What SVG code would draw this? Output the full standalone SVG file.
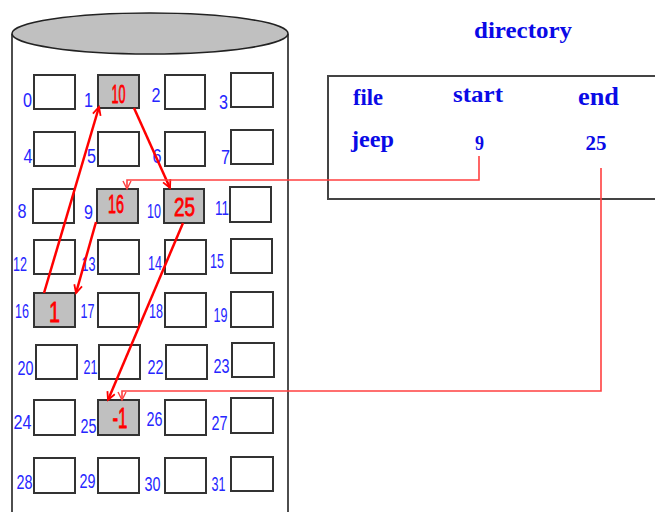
<svg xmlns="http://www.w3.org/2000/svg" width="655" height="512" viewBox="0 0 655 512">
<style>
.blk{fill:#fff;stroke:#333;stroke-width:2}
.used{fill:#c0c0c0;stroke:#333;stroke-width:2}
.lbl{font-family:"Liberation Sans",Arial,sans-serif;font-size:20px;fill:#2626ff}
.val{font-family:"Liberation Sans",Arial,sans-serif;fill:#ff0000;stroke:#ff0000;stroke-width:0.8;text-anchor:middle}
.dir{font-family:"Liberation Serif","Times New Roman",serif;font-weight:bold;fill:#0a0ae6}
.arr{fill:none;stroke:#ff0000;stroke-width:2.5;marker-end:url(#ah)}
.lnk{fill:none;stroke:#ff4040;stroke-width:1.6;marker-end:url(#ah2)}
</style>
<defs>
<marker id="ah" markerUnits="userSpaceOnUse" markerWidth="12" markerHeight="12" refX="9" refY="5" orient="auto">
<path d="M1,1 L9,5 L1,9" fill="none" stroke="#ff0000" stroke-width="1.8"/>
</marker>
<marker id="ah2" markerUnits="userSpaceOnUse" markerWidth="12" markerHeight="12" refX="9" refY="5" orient="auto">
<path d="M1,1 L9,5 L1,9" fill="none" stroke="#ff4040" stroke-width="1.4"/>
</marker>
</defs>
<rect width="655" height="512" fill="#fff"/>
<g id="disk">
<path d="M12,34 L12,512 M288,34 L288,512" stroke="#222" stroke-width="1.6" fill="none"/>
<ellipse cx="150" cy="33.5" rx="138" ry="20.5" fill="#c0c0c0" stroke="#222" stroke-width="1.6"/>
</g>
<g id="blocks">
<g id="b0"><rect class="blk" x="34" y="75" width="41" height="34"/><text class="lbl" x="23" y="107" textLength="9" lengthAdjust="spacingAndGlyphs">0</text></g>
<g id="b1"><rect class="used" x="98" y="75" width="41" height="33"/><text class="lbl" x="84" y="107" textLength="9" lengthAdjust="spacingAndGlyphs">1</text><text class="val" x="118.5" y="103" font-size="25" textLength="14" lengthAdjust="spacingAndGlyphs">10</text></g>
<g id="b2"><rect class="blk" x="165" y="75" width="40" height="34"/><text class="lbl" x="151.5" y="102" textLength="9" lengthAdjust="spacingAndGlyphs">2</text></g>
<g id="b3"><rect class="blk" x="231" y="73" width="42" height="34"/><text class="lbl" x="219" y="109" textLength="9" lengthAdjust="spacingAndGlyphs">3</text></g>
<g id="b4"><rect class="blk" x="34" y="132" width="41" height="34"/><text class="lbl" x="23.5" y="163" textLength="9" lengthAdjust="spacingAndGlyphs">4</text></g>
<g id="b5"><rect class="blk" x="98" y="132" width="41" height="34"/><text class="lbl" x="87" y="163" textLength="9" lengthAdjust="spacingAndGlyphs">5</text></g>
<g id="b6"><rect class="blk" x="165" y="132" width="40" height="34"/><text class="lbl" x="152.5" y="163" textLength="9" lengthAdjust="spacingAndGlyphs">6</text></g>
<g id="b7"><rect class="blk" x="231" y="130" width="42" height="34"/><text class="lbl" x="221" y="164" textLength="9" lengthAdjust="spacingAndGlyphs">7</text></g>
<g id="b8"><rect class="blk" x="33" y="189" width="41" height="34"/><text class="lbl" x="17.5" y="218" textLength="9" lengthAdjust="spacingAndGlyphs">8</text></g>
<g id="b9"><rect class="used" x="97" y="189" width="41" height="34"/><text class="lbl" x="84" y="219" textLength="9" lengthAdjust="spacingAndGlyphs">9</text><text class="val" x="116" y="213" font-size="26" textLength="16" lengthAdjust="spacingAndGlyphs">16</text></g>
<g id="b10"><rect class="used" x="164" y="189" width="40" height="34"/><text class="lbl" x="147" y="218" textLength="14" lengthAdjust="spacingAndGlyphs">10</text><text class="val" x="184.5" y="216" font-size="26" textLength="21" lengthAdjust="spacingAndGlyphs">25</text></g>
<g id="b11"><rect class="blk" x="230" y="187" width="41" height="35"/><text class="lbl" x="215" y="215" textLength="14" lengthAdjust="spacingAndGlyphs">11</text></g>
<g id="b12"><rect class="blk" x="34" y="240" width="41" height="34"/><text class="lbl" x="13" y="271" textLength="14" lengthAdjust="spacingAndGlyphs">12</text></g>
<g id="b13"><rect class="blk" x="98" y="240" width="41" height="34"/><text class="lbl" x="81.5" y="271" textLength="14" lengthAdjust="spacingAndGlyphs">13</text></g>
<g id="b14"><rect class="blk" x="165" y="240" width="41" height="34"/><text class="lbl" x="148" y="270" textLength="14" lengthAdjust="spacingAndGlyphs">14</text></g>
<g id="b15"><rect class="blk" x="231" y="239" width="41" height="34"/><text class="lbl" x="210" y="268" textLength="14" lengthAdjust="spacingAndGlyphs">15</text></g>
<g id="b16"><rect class="used" x="34" y="293" width="41" height="34"/><text class="lbl" x="15" y="318" textLength="14" lengthAdjust="spacingAndGlyphs">16</text><text class="val" x="54.5" y="322" font-size="30" textLength="11" lengthAdjust="spacingAndGlyphs">1</text></g>
<g id="b17"><rect class="blk" x="98" y="293" width="41" height="34"/><text class="lbl" x="80.5" y="318" textLength="14" lengthAdjust="spacingAndGlyphs">17</text></g>
<g id="b18"><rect class="blk" x="165" y="293" width="41" height="34"/><text class="lbl" x="149" y="318" textLength="14" lengthAdjust="spacingAndGlyphs">18</text></g>
<g id="b19"><rect class="blk" x="231" y="292" width="42" height="35"/><text class="lbl" x="213.5" y="322" textLength="14" lengthAdjust="spacingAndGlyphs">19</text></g>
<g id="b20"><rect class="blk" x="36" y="345" width="41" height="34"/><text class="lbl" x="17.5" y="375" textLength="16" lengthAdjust="spacingAndGlyphs">20</text></g>
<g id="b21"><rect class="blk" x="99" y="345" width="41" height="34"/><text class="lbl" x="83.5" y="374" textLength="14" lengthAdjust="spacingAndGlyphs">21</text></g>
<g id="b22"><rect class="blk" x="166" y="345" width="41" height="34"/><text class="lbl" x="147.5" y="374" textLength="16" lengthAdjust="spacingAndGlyphs">22</text></g>
<g id="b23"><rect class="blk" x="232" y="343" width="42" height="34"/><text class="lbl" x="213.5" y="373" textLength="16" lengthAdjust="spacingAndGlyphs">23</text></g>
<g id="b24"><rect class="blk" x="34" y="400" width="41" height="35"/><text class="lbl" x="13.5" y="429" textLength="18" lengthAdjust="spacingAndGlyphs">24</text></g>
<g id="b25"><rect class="used" x="98" y="400" width="41" height="35"/><text class="lbl" x="80.5" y="433" textLength="16" lengthAdjust="spacingAndGlyphs">25</text><text class="val" x="120" y="428" font-size="29" textLength="15" lengthAdjust="spacingAndGlyphs">-1</text></g>
<g id="b26"><rect class="blk" x="165" y="400" width="41" height="35"/><text class="lbl" x="146.5" y="426" textLength="16" lengthAdjust="spacingAndGlyphs">26</text></g>
<g id="b27"><rect class="blk" x="231" y="398" width="42" height="35"/><text class="lbl" x="211.5" y="430" textLength="16" lengthAdjust="spacingAndGlyphs">27</text></g>
<g id="b28"><rect class="blk" x="34" y="458" width="41" height="35"/><text class="lbl" x="16.5" y="489" textLength="16" lengthAdjust="spacingAndGlyphs">28</text></g>
<g id="b29"><rect class="blk" x="98" y="458" width="41" height="35"/><text class="lbl" x="79.5" y="488" textLength="16" lengthAdjust="spacingAndGlyphs">29</text></g>
<g id="b30"><rect class="blk" x="165" y="458" width="41" height="35"/><text class="lbl" x="144.5" y="491" textLength="16" lengthAdjust="spacingAndGlyphs">30</text></g>
<g id="b31"><rect class="blk" x="231" y="457" width="42" height="34"/><text class="lbl" x="211.5" y="491" textLength="14" lengthAdjust="spacingAndGlyphs">31</text></g>
</g>
<g id="directory">
<text class="dir" x="474" y="38" font-size="24" textLength="98" lengthAdjust="spacingAndGlyphs">directory</text>
<rect x="328" y="76" width="340" height="123" fill="none" stroke="#444" stroke-width="2"/>
<text class="dir" x="353" y="105" font-size="23" textLength="30" lengthAdjust="spacingAndGlyphs">file</text>
<text class="dir" x="453" y="102" font-size="24" textLength="50" lengthAdjust="spacingAndGlyphs">start</text>
<text class="dir" x="578" y="105" font-size="25" textLength="41" lengthAdjust="spacingAndGlyphs">end</text>
<text class="dir" x="351" y="147" font-size="24" textLength="43" lengthAdjust="spacingAndGlyphs">jeep</text>
<text class="dir" x="475" y="150" font-size="22" textLength="9" lengthAdjust="spacingAndGlyphs">9</text>
<text class="dir" x="585.5" y="150" font-size="22" textLength="21" lengthAdjust="spacingAndGlyphs">25</text>
</g>
<g id="connectors">
<line class="arr" x1="44" y1="293" x2="99" y2="107"/>
<line class="arr" x1="134" y1="108" x2="170" y2="188"/>
<line class="arr" x1="96" y1="222" x2="76" y2="293"/>
<line class="arr" x1="183" y1="223" x2="108" y2="400"/>
<polyline class="lnk" points="479,156 479,180 127,180 127,189"/>
<polyline class="lnk" points="601,168 601,391 122,391 122,400"/>
</g>
</svg>
